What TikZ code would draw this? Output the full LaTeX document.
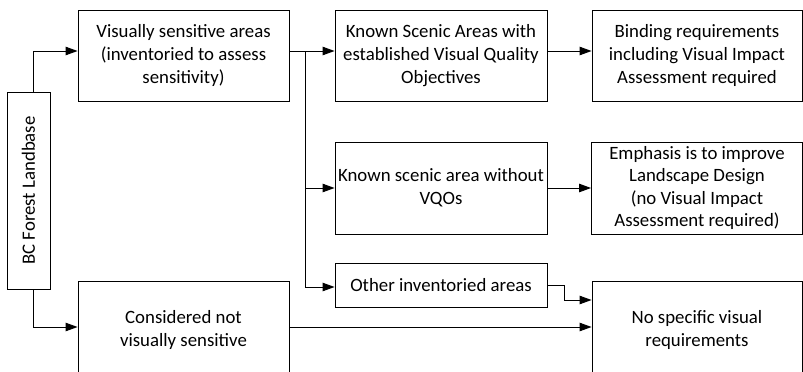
\documentclass[tikz,border=0pt]{standalone}
\usepackage{fontspec}
\setmainfont{Carlito}
\usepackage{tikz}
\usetikzlibrary{arrows.meta}
\usetikzlibrary{calc}

\begin{document}
\begin{tikzpicture}[x=1pt, y=-1pt,
    box/.style={draw, line width=0.9pt, align=center, inner sep=0pt,
        minimum width=211pt, minimum height=91pt,
        font=\fontsize{18.8}{22.6}\selectfont},
    link/.style={line width=0.9pt, -{Triangle[length=12pt, width=8.5pt]}}]
    \useasboundingbox (0,0) rectangle (803,372);
    % the landbase and its two branches
    \node[box, minimum width=43pt, minimum height=197pt] (landbase) at (28.5,190.5)
        {\rotatebox{90}{BC Forest Landbase}};
    \node[box] (sensitive) at (183.5,55.5)
        {Visually sensitive areas\\(inventoried to assess\\sensitivity)};
    \node[box, minimum height=98pt] (notsensitive) at (183.5,330)
        {Considered not\\visually sensitive};
    % kinds of sensitive areas
    \node[box, minimum width=212pt] (vqo) at (441,55.5)
        {Known Scenic Areas with\\established Visual Quality\\Objectives};
    \node[box, minimum width=212pt, minimum height=92pt] (novqo) at (441,188)
        {Known scenic area without\\VQOs};
    \node[box, minimum width=212pt, minimum height=44pt] (other) at (441,285)
        {Other inventoried areas};
    % what each one requires
    \node[box, minimum width=210pt] (binding) at (697,55.5)
        {Binding requirements\\including Visual Impact\\Assessment required};
    \node[box, minimum height=92pt] (design) at (697,188)
        {Emphasis is to improve\\Landscape Design\\(no Visual Impact\\Assessment required)};
    \node[box, minimum width=210pt, minimum height=98pt] (norequire) at (697,330)
        {No specific visual\\requirements};

    \coordinate (split) at (305,51);
    \draw[link] ([xshift=4.5pt]landbase.north) |- ([yshift=4.5pt]sensitive.west);
    \draw[link] ([xshift=4.5pt]landbase.south) |- ([yshift=3pt]notsensitive.west);
    \draw[link] ([yshift=4.5pt]sensitive.east) -- ([yshift=4.5pt]vqo.west);
    \draw[link] (split) |- (novqo.west);
    \draw[link] (split) |- ([yshift=-2pt]other.west);
    \draw[link] ([yshift=4.5pt]vqo.east) -- ([yshift=4.5pt]binding.west);
    \draw[link] (novqo.east) -- (design.west);
    \draw[link] (other.east) -- ++(17,0) |- ([yshift=30pt]norequire.west);
    \draw[link] ([yshift=3pt]notsensitive.east) -- ([yshift=3pt]norequire.west);
\end{tikzpicture}
\end{document}
